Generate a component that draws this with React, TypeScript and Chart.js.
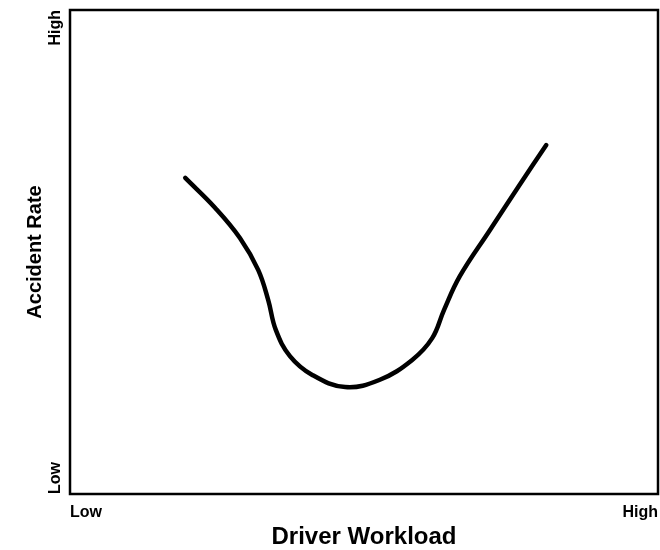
import React, { useEffect, useRef } from "react";
import { Chart, registerables } from "chart.js";

Chart.register(...registerables);

const workload = [19.6, 24.7, 28.9, 32.0, 33.7, 35.0, 37.4, 41.2, 46.8, 52.7, 58.2, 61.6, 63.6, 66.3, 71.4, 76.2, 81.0];
const accidentRate = [65.3, 59.1, 52.9, 46.3, 40.1, 33.9, 28.5, 24.6, 22.1, 23.6, 27.7, 32.2, 38.0, 45.0, 54.5, 63.4, 72.1];
const xTickValues = [0, 100];
const xTickLabels = ["Low", "High"];
const yTickValues = [0, 100];
const yTickLabels = ["Low", "High"];
const xTitle = "Driver Workload";
const yTitle = "Accident Rate";

const FONT = "'Liberation Sans', Arial, sans-serif";

const boxAndYLabels = {
  id: "boxAndYLabels",
  afterDraw(chart: any) {
    const { ctx, chartArea } = chart;
    const yScale = chart.scales.y;
    ctx.save();
    ctx.strokeStyle = "#000";
    ctx.lineWidth = 2.5;
    ctx.strokeRect(chartArea.left, chartArea.top, chartArea.right - chartArea.left, chartArea.bottom - chartArea.top);
    ctx.fillStyle = "#000";
    ctx.font = `bold 16px ${FONT}`;
    ctx.textBaseline = "alphabetic";
    yTickValues.forEach((v, i) => {
      const py = yScale.getPixelForValue(v);
      ctx.save();
      ctx.translate(60, py);
      ctx.rotate(-Math.PI / 2);
      ctx.textAlign = i === 0 ? "left" : "right";
      ctx.fillText(yTickLabels[i], 0, 0);
      ctx.restore();
    });
    ctx.restore();
  },
};

export default function App() {
  const ref = useRef<HTMLCanvasElement>(null);
  useEffect(() => {
    const canvas = ref.current;
    if (!canvas) return;
    const chart = new Chart(canvas, {
      type: "line",
      data: {
        datasets: [
          {
            data: workload.map((x, i) => ({ x, y: accidentRate[i] })),
            borderColor: "#000",
            borderWidth: 4.5,
            borderCapStyle: "round",
            borderJoinStyle: "round",
            pointRadius: 0,
            tension: 0.4,
            fill: false,
          },
        ],
      },
      options: {
        animation: false,
        responsive: false,
        maintainAspectRatio: false,
        layout: { padding: { top: 10, right: 2, left: 0, bottom: 0 } },
        plugins: { legend: { display: false }, tooltip: { enabled: false } },
        scales: {
          x: {
            type: "linear",
            min: 0,
            max: 100,
            grid: { display: false, drawTicks: false },
            border: { display: false },
            afterBuildTicks: (scale: any) => {
              scale.ticks = xTickValues.map((value) => ({ value }));
            },
            afterFit: (scale: any) => {
              scale.height = 56;
              scale.paddingLeft = 0;
              scale.paddingRight = 0;
            },
            ticks: {
              align: "inner",
              padding: 9,
              color: "#000",
              font: { family: FONT, size: 16, weight: "bold" },
              callback: (value: any) => xTickLabels[xTickValues.indexOf(Number(value))] ?? "",
            },
            title: {
              display: true,
              text: xTitle,
              color: "#000",
              font: { family: FONT, size: 24, weight: "bold", lineHeight: 1 },
              padding: { top: 0, bottom: 1 },
            },
          },
          y: {
            type: "linear",
            min: 0,
            max: 100,
            grid: { display: false, drawTicks: false },
            border: { display: false },
            ticks: { display: false },
            afterFit: (scale: any) => {
              scale.width = 70;
              scale.paddingTop = 0;
              scale.paddingBottom = 0;
            },
            title: {
              display: true,
              text: yTitle,
              color: "#000",
              font: { family: FONT, size: 20, weight: "bold", lineHeight: 1 },
              padding: { top: 25, bottom: 0 },
            },
          },
        },
      },
      plugins: [boxAndYLabels],
    });
    return () => chart.destroy();
  }, []);
  return (
    <div style={{ position: "fixed", left: 0, top: 0, width: 660, height: 550, background: "#fff" }}>
      <canvas ref={ref} width={660} height={550} style={{ display: "block" }} />
    </div>
  );
}
